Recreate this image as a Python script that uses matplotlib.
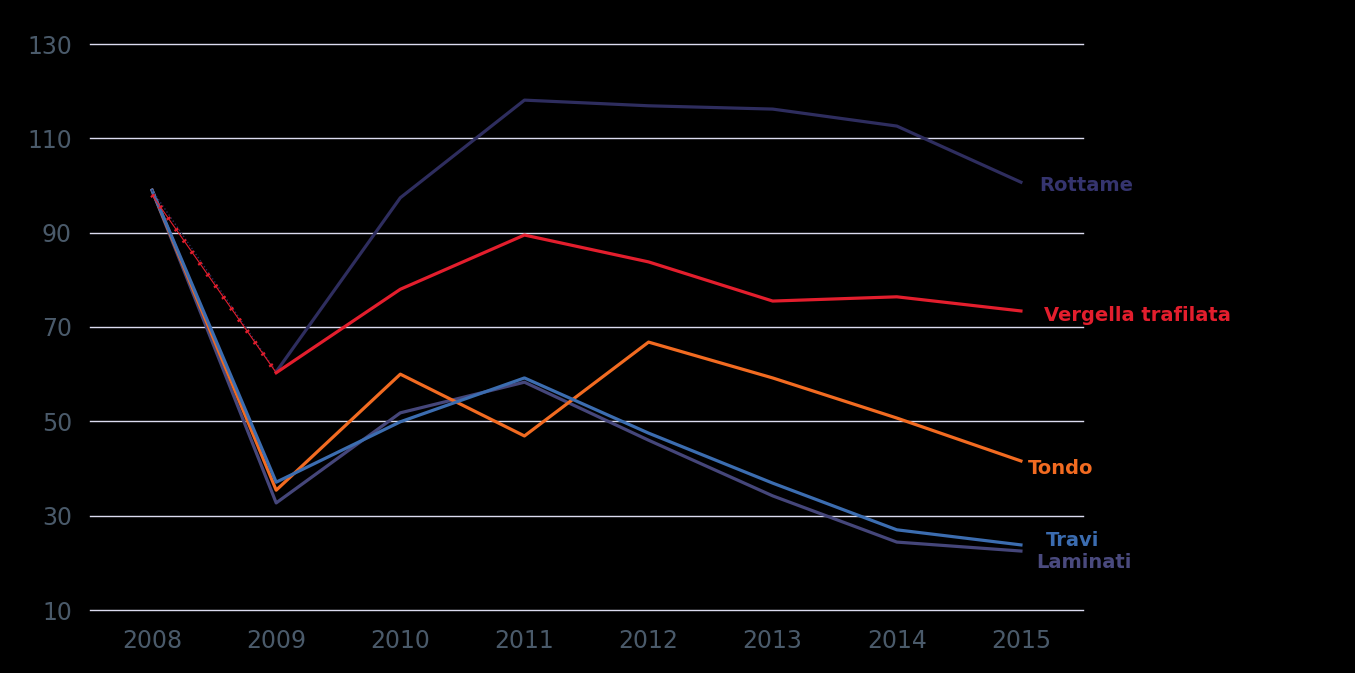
import numpy as np
import matplotlib.pyplot as plt

# dati
anni = ['2008', '2009', '2010', '2011', '2012', '2013', '2014', '2015']
rottame = [99, 60.5, 97.4, 118.1, 116.9, 116.2, 112.6, 100.7]
vergella = [98, 60.3, 78.0, 89.5, 83.8, 75.5, 76.4, 73.4]
tondo = [99, 35.4, 60.0, 46.9, 66.8, 59.2, 50.7, 41.6]
travi = [99, 37.1, 49.9, 59.2, 47.5, 36.9, 27.0, 23.8]
laminati = [99, 32.7, 51.8, 58.3, 46.0, 34.2, 24.4, 22.5]

x = np.arange(len(anni))

fig = plt.figure(figsize=(13.55, 6.73), dpi=100, facecolor='black')
ax = fig.add_axes([90/1355, 63/673, 993/1355, 566/673], facecolor='black')

# griglia
for v in range(10, 131, 20):
    ax.axhline(v, color='#dcdcf0', linewidth=1.0, zorder=1, clip_on=False)

lw = 2.3
ax.plot(x, laminati, color='#45467a', linewidth=lw, zorder=3)
ax.plot(x, tondo, color='#f26b21', linewidth=lw, zorder=3)
ax.plot(x, travi, color='#3c6db0', linewidth=lw, zorder=4)
ax.plot(x[:2], rottame[:2], color='#2e2d5e', linewidth=1.0, linestyle=':', zorder=4)
ax.plot(x[1:], rottame[1:], color='#2e2d5e', linewidth=lw, zorder=4)
# primo tratto della vergella punteggiato
ax.plot(x[:2], vergella[:2], color='#e31e2d', linewidth=0.8, zorder=5)
ax.plot(x[:2], vergella[:2], color='#e31e2d', linewidth=3.2, linestyle=(0, (0.5, 2.6)),
        zorder=5)
ax.plot(x[1:], vergella[1:], color='#e31e2d', linewidth=lw, zorder=5)

# etichette delle serie
kw = dict(fontsize=14, fontweight='bold', va='center', ha='left', family='DejaVu Sans')
ax.text(7.145, 100.1, 'Rottame', color='#35346e', **kw)
ax.text(7.185, 72.5, 'Vergella trafilata', color='#e31e2d', **kw)
ax.text(7.056, 39.9, 'Tondo', color='#f26b21', **kw)
ax.text(7.2, 24.8, 'Travi', color='#3b6cb0', **kw)
ax.text(7.12, 20.0, 'Laminati', color='#4a4a7e', **kw)

ax.set_xlim(-0.5, 7.5)
ax.set_ylim(10, 130)
ax.set_yticks(range(10, 131, 20))
ax.set_xticks(x)
ax.set_xticklabels(anni)
ax.tick_params(colors='#4a5a6a', labelsize=17, length=0)
ax.tick_params(axis='y', pad=13)
ax.tick_params(axis='x', pad=14)
for s in ax.spines.values():
    s.set_visible(False)

plt.savefig('out.png', dpi=100, facecolor='black')
